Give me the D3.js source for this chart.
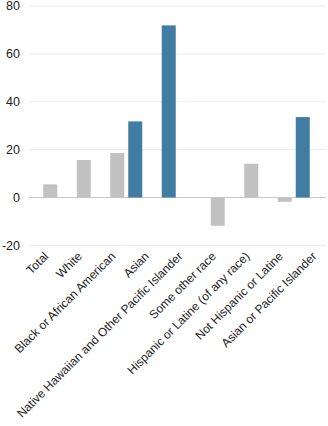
<!DOCTYPE html>
<html>
<head>
<meta charset="utf-8">
<script src="https://cdn.jsdelivr.net/npm/d3@7"></script>
<style>
  body { margin: 0; background: #fff; }
  svg { display: block; font-family: "Liberation Sans", Arial, sans-serif; }
</style>
</head>
<body>
<svg id="chart" width="328" height="426"></svg>
<script>
const categories = ['Total', 'White', 'Black or African American', 'Asian',
  'Native Hawaiian and Other Pacific Islander', 'Some other race',
  'Hispanic or Latine (of any race)', 'Not Hispanic or Latine', 'Asian or Pacific Islander']
// two series per category, null = no bar
const grayValues = [5.5, 15.7, 18.6, null, null, -11.8, 14.1, -1.8, null]
const blueValues = [null, null, 31.8, 71.9, null, null, null, 33.6, null]
const yTicks = [-20, 0, 20, 40, 60, 80]

const svg = d3.select('#chart')

let x = d3.scaleBand()
  .domain(categories)
  .range([42.5, 42.5 + 9 * 33.5])
  .padding(0)

let xs = d3.scaleBand()
  .domain(['gray', 'blue'])
  .range([0, x.step()])
  .paddingInner(0.222)
  .paddingOuter(0.042)

let y = d3.scaleLinear()
  .domain([-20, 80])
  .range([245.4, 6])

// gridlines
svg.append('g')
  .selectAll('line')
  .data(yTicks)
  .join('line')
  .attr('x1', 29)
  .attr('x2', 326)
  .attr('y1', d => y(d))
  .attr('y2', d => y(d))
  .attr('stroke', d => d === 0 ? '#c8c8c8' : '#ececec')
  .attr('stroke-width', 1)

// y labels
svg.append('g')
  .selectAll('text')
  .data(yTicks)
  .join('text')
  .attr('x', 20)
  .attr('y', d => y(d))
  .attr('dy', '0.35em')
  .attr('text-anchor', 'end')
  .attr('font-size', 12.5)
  .attr('fill', '#222')
  .text(d => d)

const series = [
  { key: 'gray', values: grayValues, color: '#c1c1c1' },
  { key: 'blue', values: blueValues, color: '#417ca3' }
]

series.forEach(s => {
  let data = categories.map((c, i) => ({ c: c, v: s.values[i] })).filter(d => d.v !== null)
  svg.append('g')
    .selectAll('rect')
    .data(data)
    .join('rect')
    .attr('x', d => x(d.c) + xs(s.key))
    .attr('width', xs.bandwidth())
    .attr('y', d => y(Math.max(0, d.v)))
    .attr('height', d => Math.abs(y(d.v) - y(0)))
    .attr('fill', s.color)
})

// x labels, rotated
svg.append('g')
  .selectAll('text')
  .data(categories)
  .join('text')
  .attr('transform', d => `translate(${x(d) + xs('gray') + xs.bandwidth() / 2 - 1},257) rotate(-45)`)
  .attr('text-anchor', 'end')
  .attr('font-size', 12)
  .attr('fill', '#222')
  .text(d => d)
</script>
</body>
</html>
